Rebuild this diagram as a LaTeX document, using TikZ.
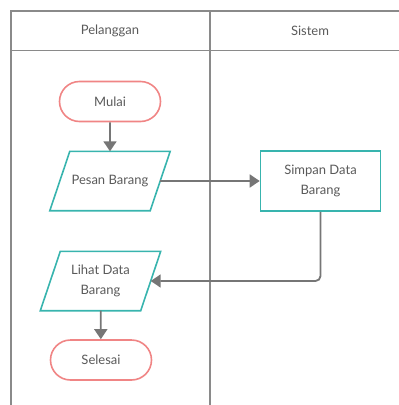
\documentclass[tikz,border=0pt]{standalone}
\usepackage{fontspec}
\setmainfont{Lato}
\usetikzlibrary{shapes.misc,arrows.meta}
\definecolor{lanegray}{HTML}{8A8A8A}
\definecolor{arrowgray}{HTML}{767676}
\definecolor{termred}{HTML}{F08585}
\definecolor{ioteal}{HTML}{38B4AE}
\definecolor{txtgray}{HTML}{5A5A5A}
\tikzset{
  lane/.style={draw=lanegray, line width=1.8pt},
  txt/.style={text=txtgray, font=\fontsize{13}{20}\selectfont, align=center},
  terminal/.style={txt, draw=termred, line width=1.6pt, fill=white,
    rounded rectangle, minimum width=101pt, minimum height=40pt, inner sep=0pt},
  iobody/.style={txt, rectangle, minimum width=100pt, minimum height=59pt, inner sep=0pt},
  ioedge/.style={draw=ioteal, line width=1.6pt, line join=miter},
  process/.style={txt, draw=ioteal, line width=1.6pt, fill=white, rectangle,
    minimum width=120pt, minimum height=60pt, inner sep=0pt},
  conn/.style={draw=arrowgray, line width=1.8pt,
    -{Triangle[length=10pt,width=13pt]}},
}
% slanted outline around a rectangular node (input/output box)
\newcommand\ioframe[1]{%
  \draw[ioedge] ([xshift=-10pt]#1.south west) -- ([xshift=-10pt]#1.south east)
    -- ([xshift=10pt]#1.north east) -- ([xshift=10pt]#1.north west) -- cycle;}
\begin{document}
\begin{tikzpicture}[x=1pt,y=-1pt]
  \useasboundingbox (0,0) rectangle (399,405);
  \clip (0,0) rectangle (399,405);
  % swimlane frame
  \draw[lane] (11,430) -- (11,11) -- (420,11);
  \draw[lane] (11,50.5) -- (420,50.5);
  \draw[lane] (210,11) -- (210,430);
  \node[txt] (h1) at (110,31) {Pelanggan};
  \node[txt] (h2) at (310,31) {Sistem};
  % flow nodes
  \node[terminal] (mulai) at (110,101.5) {Mulai};
  \node[iobody] (pesan) at (110,181) {Pesan Barang};
  \ioframe{pesan}
  \node[process] (simpan) at (320.5,181) {Simpan Data\\Barang};
  \node[iobody] (lihat) at (100.5,281) {Lihat Data\\Barang};
  \ioframe{lihat}
  \node[terminal] (selesai) at (101,360) {Selesai};
  % connectors
  \draw[conn] (mulai) -- (pesan);
  \draw[conn] (pesan.east) -- (simpan.west);
  \draw[conn, rounded corners=5pt] (simpan.south) |- (lihat.east);
  \draw[conn] (lihat) -- (selesai);
\end{tikzpicture}
\end{document}
